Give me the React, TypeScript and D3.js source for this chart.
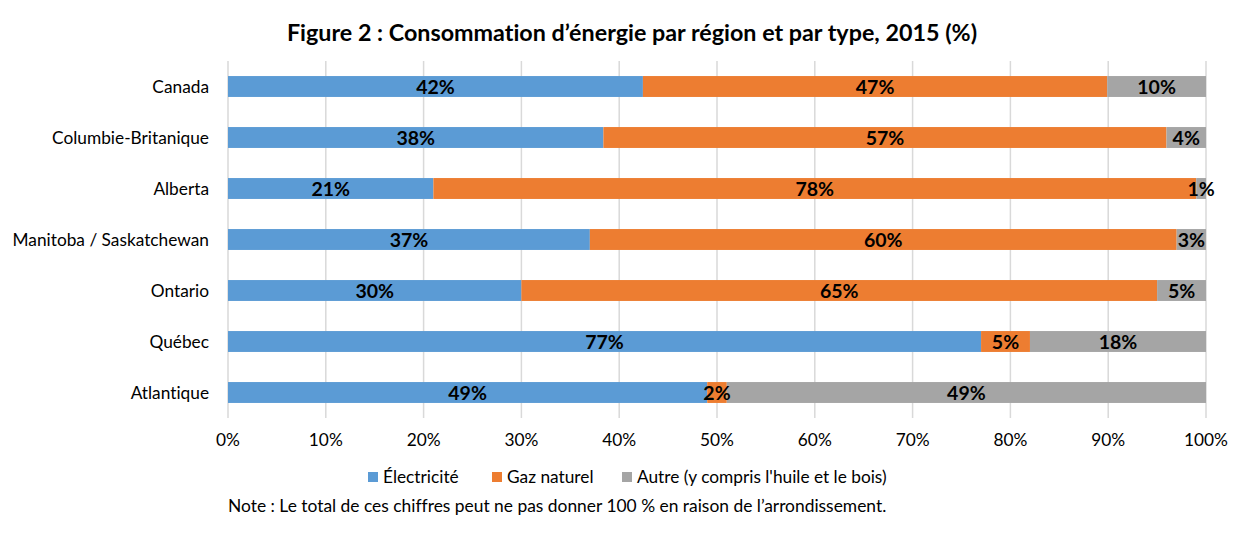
import * as d3 from "d3";

const width = 1249;
const height = 537;
const margin = { top: 61, right: 43, bottom: 119, left: 228 };
const innerWidth = width - margin.left - margin.right;
const innerHeight = height - margin.top - margin.bottom;

const regions = [
  "Canada",
  "Columbie-Britanique",
  "Alberta",
  "Manitoba / Saskatchewan",
  "Ontario",
  "Québec",
  "Atlantique",
];
const electricite = [42, 38, 21, 37, 30, 77, 49];
const gazNaturel = [47, 57, 78, 60, 65, 5, 2];
const autre = [10, 4, 1, 3, 5, 18, 49];

const seriesKeys = ["elec", "gaz", "autre"];
const seriesNames = ["Électricité", "Gaz naturel", "Autre (y compris l'huile et le bois)"];
const colors = ["#5b9bd5", "#ed7d31", "#a5a5a5"];
const ticks = [0, 0.1, 0.2, 0.3, 0.4, 0.5, 0.6, 0.7, 0.8, 0.9, 1];

const font = "Lato, 'Open Sans', sans-serif";

type Row = { region: string; elec: number; gaz: number; autre: number };

export default function App() {
  const rows: Row[] = regions.map((region, i) => ({
    region,
    elec: electricite[i],
    gaz: gazNaturel[i],
    autre: autre[i],
  }));

  // 100 % stacked: each row normalised to its own total
  const stacked = d3
    .stack<Row>()
    .keys(seriesKeys)
    .offset(d3.stackOffsetExpand)(rows);

  const x = d3.scaleLinear().domain([0, 1]).range([0, innerWidth]);
  const y = d3
    .scaleBand()
    .domain(regions)
    .range([0, innerHeight])
    .paddingInner(0.59)
    .paddingOuter(0.295);

  const legendX = [368, 492, 622];

  return (
    <svg
      width={width}
      height={height}
      style={{ position: "absolute", left: 0, top: 0, fontVariantLigatures: "none" }}
    >
      <rect width={width} height={height} fill="#fff" />
      <text
        x={632}
        y={41}
        textAnchor="middle"
        fontFamily={font}
        fontWeight="bold"
        fontSize={23.3}
        fill="#000"
      >
        Figure 2 : Consommation d’énergie par région et par type, 2015 (%)
      </text>
      <g transform={`translate(${margin.left},${margin.top})`}>
        {ticks.map((t) => (
          <g key={t}>
            <line
              x1={x(t)}
              x2={x(t)}
              y1={0}
              y2={innerHeight}
              stroke="#d9d9d9"
              strokeWidth={1.5}
            />
            <text
              x={x(t)}
              y={innerHeight + 28}
              textAnchor="middle"
              fontFamily={font}
              fontSize={17.3}
              fill="#000"
            >
              {d3.format(".0%")(t)}
            </text>
          </g>
        ))}
        {stacked.map((s, si) => (
          <g key={s.key} fill={colors[si]}>
            {s.map((d) => (
              <rect
                key={d.data.region}
                x={x(d[0])}
                y={y(d.data.region)}
                width={x(d[1]) - x(d[0])}
                height={y.bandwidth()}
              />
            ))}
          </g>
        ))}
        {stacked.map((s) =>
          s.map((d) => (
            <text
              key={s.key + d.data.region}
              x={(x(d[0]) + x(d[1])) / 2}
              y={(y(d.data.region) ?? 0) + y.bandwidth() / 2}
              dy="0.36em"
              textAnchor="middle"
              fontFamily={font}
              fontWeight="bold"
              fontSize={19.5}
              fill="#000"
            >
              {(d.data as any)[s.key]}%
            </text>
          ))
        )}
        {regions.map((r) => (
          <text
            key={r}
            x={-19}
            y={(y(r) ?? 0) + y.bandwidth() / 2}
            dy="0.36em"
            textAnchor="end"
            fontFamily={font}
            fontSize={17.3}
            fill="#000"
          >
            {r}
          </text>
        ))}
      </g>
      {seriesNames.map((n, i) => (
        <g key={n} transform={`translate(${legendX[i]},477)`}>
          <rect x={0} y={-5} width={10} height={10} fill={colors[i]} />
          <text x={15} dy="0.36em" fontFamily={font} fontSize={17.3} fill="#000">
            {n}
          </text>
        </g>
      ))}
      <text x={228} y={512} fontFamily={font} fontSize={17.4} fill="#000">
        Note : Le total de ces chiffres peut ne pas donner 100 % en raison de l’arrondissement.
      </text>
    </svg>
  );
}
